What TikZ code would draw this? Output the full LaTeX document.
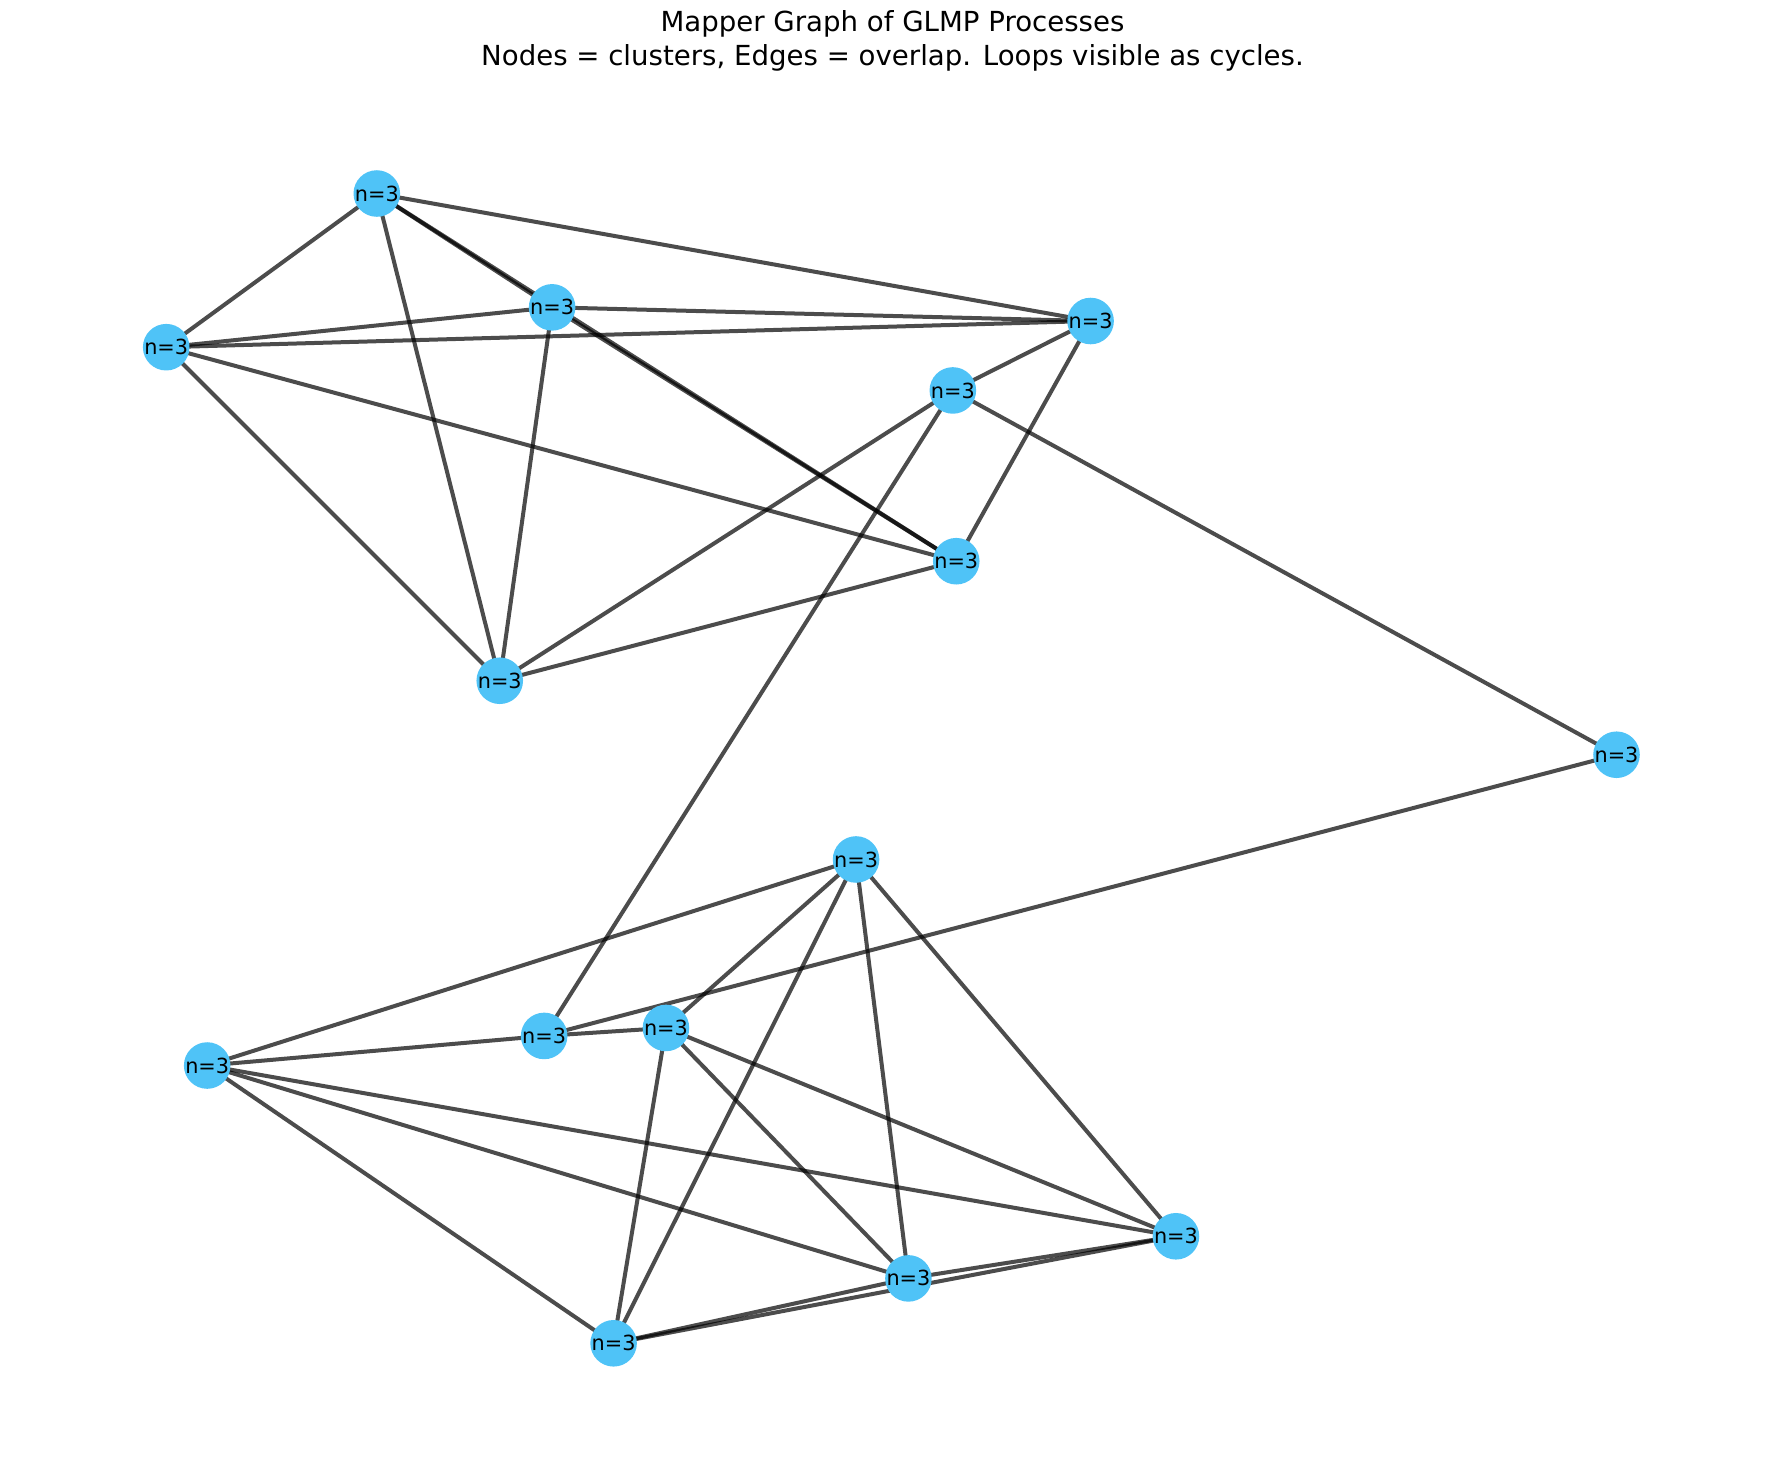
\documentclass[tikz,border=0pt]{standalone}
\usepackage{fontspec}
\setmainfont{DejaVu Sans}
\begin{document}
\begin{tikzpicture}[x=0.1mm,y=-0.1mm,
  nd/.style={circle,fill={rgb,255:red,79;green,195;blue,247},minimum size=4.0mm,inner sep=0pt,font=\fontsize{5.2}{6}\selectfont},
  ed/.style={line width=1pt,draw=black,draw opacity=0.7}]
\useasboundingbox (0,0) rectangle (1568,1299);
\node[font=\fontsize{6.9}{8.6}\selectfont,align=center] (title) at (784,36) {Mapper Graph of GLMP Processes\\Nodes = clusters, Edges = overlap. Loops visible as cycles.};
\foreach \n/\x/\y in {A/331/170,B/485/270,C/146/305,D/958/282,E/837/343,F/840/493,G/439/598,H/1420/663,I/752/755,J/478/910,K/585/903,L/182/936,M/1033/1086,N/798/1123,O/539/1180}
  \coordinate (\n) at (\x,\y);
\foreach \a/\b in {A/C,A/B,A/G,A/D,A/F,B/C,B/D,B/G,B/F,C/D,C/F,C/G,D/E,D/F,E/G,E/J,E/H,F/G,H/J,I/L,I/K,I/O,I/N,I/M,J/L,J/K,K/O,K/N,K/M,L/M,L/N,L/O,M/N,M/O,N/O}
  \draw[ed] (\a) -- (\b);
\foreach \n in {A,B,C,D,E,F,G,H,I,J,K,L,M,N,O}
  \node[nd] (n\n) at (\n) {n=3};
\end{tikzpicture}
\end{document}
